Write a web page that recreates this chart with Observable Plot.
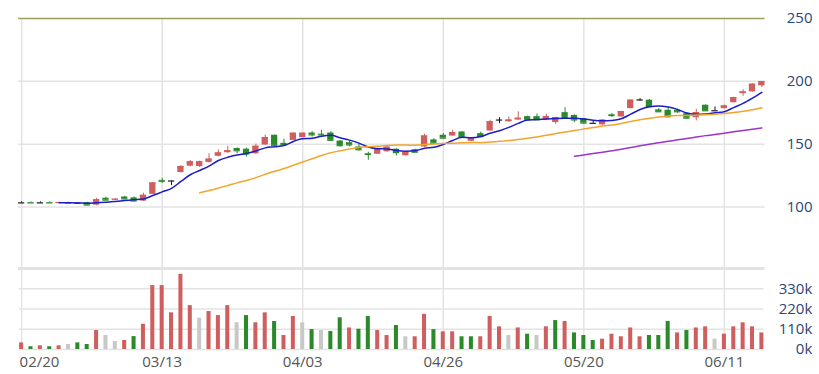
<!DOCTYPE html>
<html><head><meta charset="utf-8">
<script src="https://cdn.jsdelivr.net/npm/d3@7"></script>
<script src="https://cdn.jsdelivr.net/npm/@observablehq/plot@0.6"></script>
<style>
html,body{margin:0;padding:0;background:#fff;}
#chart{position:relative;width:819px;height:374px;overflow:hidden;font-family:"Open Sans",sans-serif;}
#chart svg{position:absolute;left:0;}
</style></head><body><div id="chart"></div>
<script>
const opens = [103.3,103.6,103.3,103.6,103.2,103.5,103.1,103.5,101.5,107.0,105.7,108.0,107.3,104.7,110.1,121.2,120.7,127.5,132.5,132.2,
135.5,140.4,143.2,146.6,146.0,142.4,149.4,157.1,150.7,153.0,155.2,158.9,158.0,158.9,152.5,151.2,147.8,142.4,142.0,144.0,
146.0,140.8,145.6,147.8,153.4,157.1,156.5,159.7,152.3,158.4,160.5,169.2,167.8,169.2,171.9,171.9,169.4,167.2,175.1,172.9,
170.3,166.6,165.4,173.4,171.7,178.3,185.2,185.0,177.3,177.0,177.0,174.3,171.1,181.0,176.6,178.3,183.0,190.2,191.6,196.4];
const closes = [103.3,103.3,103.3,103.3,103.6,103.2,103.1,101.6,105.8,105.5,106.2,106.5,104.8,109.3,119.1,120.5,120.7,132.2,136.0,136.0,
138.1,143.0,144.8,144.8,142.2,148.3,155.2,149.1,149.6,158.7,158.7,157.4,157.4,153.1,148.8,149.4,145.6,141.8,146.4,147.6,
143.3,143.3,143.6,156.5,150.8,154.8,159.2,156.0,154.4,156.0,167.9,169.2,169.2,170.6,169.4,169.4,171.9,171.1,171.3,169.3,
166.8,166.6,169.1,172.8,175.9,185.0,185.2,179.9,175.8,171.8,175.8,170.7,175.1,176.6,176.6,180.4,187.0,191.6,197.7,199.8];
const highs = [104.2,104.0,104.2,104.1,103.9,103.8,103.6,103.8,107.0,107.8,106.6,108.5,108.0,111.0,119.5,122.8,120.7,133.0,137.0,136.5,
142.4,145.4,148.3,147.0,146.8,150.0,157.3,157.3,153.9,159.0,159.0,160.0,161.0,159.9,152.8,152.5,149.8,143.6,146.8,148.0,
146.3,143.8,146.0,157.9,154.4,158.6,161.0,160.0,154.6,159.6,169.0,171.1,171.7,175.7,172.3,174.0,173.9,171.5,179.0,173.3,
170.6,168.4,169.3,174.4,176.2,185.3,186.3,185.6,178.4,179.0,177.8,174.6,177.8,181.3,179.6,181.0,187.4,193.4,198.0,200.0];
const lows = [103.3,103.1,103.3,103.2,103.1,103.0,102.8,101.3,101.0,105.2,105.5,106.2,104.2,104.5,110.0,118.7,117.0,127.0,132.0,131.5,
135.0,139.8,142.8,142.4,139.8,141.7,149.0,149.0,148.8,152.8,155.0,155.7,156.8,153.0,147.8,147.8,144.5,137.2,141.8,143.5,
140.6,140.5,143.3,147.5,150.5,154.5,156.3,155.8,152.0,155.8,160.3,166.3,167.5,169.0,169.0,169.0,168.6,165.8,170.3,167.2,
166.0,166.6,165.0,171.2,171.5,178.0,184.2,179.6,175.2,171.5,174.6,170.4,168.5,176.3,176.6,178.0,182.8,188.2,191.4,195.0];
const volumes = [36,15,20,15,20,27,36,27,103,76,43,49,70,137,347,347,199,408,238,170,
206,184,238,145,184,145,199,152,76,179,145,108,103,98,172,117,110,179,103,76,
130,69,69,191,108,96,96,69,69,69,179,123,76,117,83,76,123,157,152,90,
76,49,56,83,69,117,69,76,76,152,90,103,117,123,56,83,123,145,123,90].map(v => v * 1000);
const volumeDir = [1,-1,1,-1,1,0,-1,-1,1,0,0,1,-1,1,1,1,1,1,1,0,
1,1,1,0,-1,1,1,-1,1,1,0,-1,0,-1,-1,1,-1,-1,1,1,
-1,0,1,1,-1,1,1,-1,-1,1,1,1,0,1,-1,0,1,-1,1,-1,
-1,-1,1,1,1,1,1,-1,-1,-1,1,-1,1,1,0,1,1,1,1,1];
const dateTicks = [0,15,30,45,60,75];
const dateLabels = ["02/20","03/13","04/03","04/26","05/20","06/11"];
const priceTicks = [100,150,200];
const priceTop = 250;
const volumeTicks = [0,110000,220000,330000];
const maPeriods = [5,20,60];

const RED = "#cf5f5f", GREEN = "#2a8a2a", DOJI = "#1a1a1a", GRAY = "#c8c8c8";
const GRID = "#e3e3e3";
const maColors = ["#1c1cc8","#f3a42c","#9b34cc"];
const n = closes.length;
const rows = d3.range(n).map(i => ({i, open: opens[i], high: highs[i], low: lows[i], close: closes[i], volume: volumes[i], dir: volumeDir[i]}));
const candleColor = d => d.close > d.open ? RED : d.close < d.open ? GREEN : DOJI;
const volColor = d => d.dir > 0 ? RED : d.dir < 0 ? GREEN : GRAY;
const ticks = dateTicks.map((t, k) => ({i: t, label: dateLabels[k]}));

const chart = document.getElementById("chart");

const price = Plot.plot({
  width: 819, height: 270,
  marginLeft: 18, marginRight: 54.5, marginTop: 18, marginBottom: 2,
  style: {fontFamily: "'Open Sans', sans-serif", background: "transparent"},
  x: {type: "band", domain: d3.range(n), paddingInner: 0.33, paddingOuter: 0, round: false, axis: null},
  y: {domain: [51.1, 250]},
  marks: [
    Plot.ruleY(priceTicks, {stroke: GRID, strokeWidth: 1.5}),
    Plot.ruleX(dateTicks, {stroke: GRID, strokeWidth: 1.5}),
    Plot.ruleY([51.1], {stroke: GRID, strokeWidth: 3}),
    Plot.ruleY([priceTop], {stroke: "#a29d5c", strokeWidth: 1.5}),
    Plot.axisY([...priceTicks, priceTop], {anchor: "right", tickSize: 0, tickPadding: 47.5, textAnchor: "end", fontSize: 15, fill: "#2b4775", color: "#2b4775", label: null}),
    Plot.ruleX(rows, {x: "i", y1: "low", y2: "high", stroke: candleColor, strokeWidth: 1}),
    Plot.barY(rows, {x: "i", y1: "open", y2: "close", fill: candleColor}),
    Plot.tickY(rows, {x: "i", y: "close", stroke: candleColor, strokeWidth: 1.2}),
    ...maPeriods.map((k, j) => Plot.lineY(rows, Plot.windowY({k, anchor: "end", reduce: "mean", strict: true}, {x: "i", y: "close", stroke: maColors[j], strokeWidth: 1.5, curve: "monotone-x"})))
  ]
});
price.style.top = "0px";
chart.appendChild(price);

const volume = Plot.plot({
  width: 819, height: 104,
  marginLeft: 19.1, marginRight: 55.6, marginTop: 0, marginBottom: 25,
  style: {fontFamily: "'Open Sans', sans-serif", background: "transparent"},
  x: {type: "band", domain: d3.range(n), paddingInner: 0.57, paddingOuter: 0, round: false, axis: null},
  y: {domain: [0, 428700]},
  marks: [
    Plot.ruleY(volumeTicks, {stroke: GRID, strokeWidth: 1.5}),
    Plot.ruleX(dateTicks, {stroke: GRID, strokeWidth: 1.5}),
    Plot.barY(rows, {x: "i", y: "volume", fill: volColor}),
    Plot.axisY(volumeTicks, {anchor: "right", tickSize: 0, tickPadding: 48.4, textAnchor: "end", fontSize: 15, fill: "#2b4775", color: "#2b4775", tickFormat: d => d / 1000 + "k", label: null}),
    Plot.text(ticks.slice(0, 1), {x: "i", text: "label", frameAnchor: "bottom", lineAnchor: "top", textAnchor: "start", dx: -2, dy: 7, fontSize: 15, fill: "#555"}),
    Plot.text(ticks.slice(1), {x: "i", text: "label", frameAnchor: "bottom", lineAnchor: "top", dy: 7, fontSize: 15, fill: "#555"})
  ]
});
volume.style.top = "270px";
chart.appendChild(volume);
</script></body></html>
